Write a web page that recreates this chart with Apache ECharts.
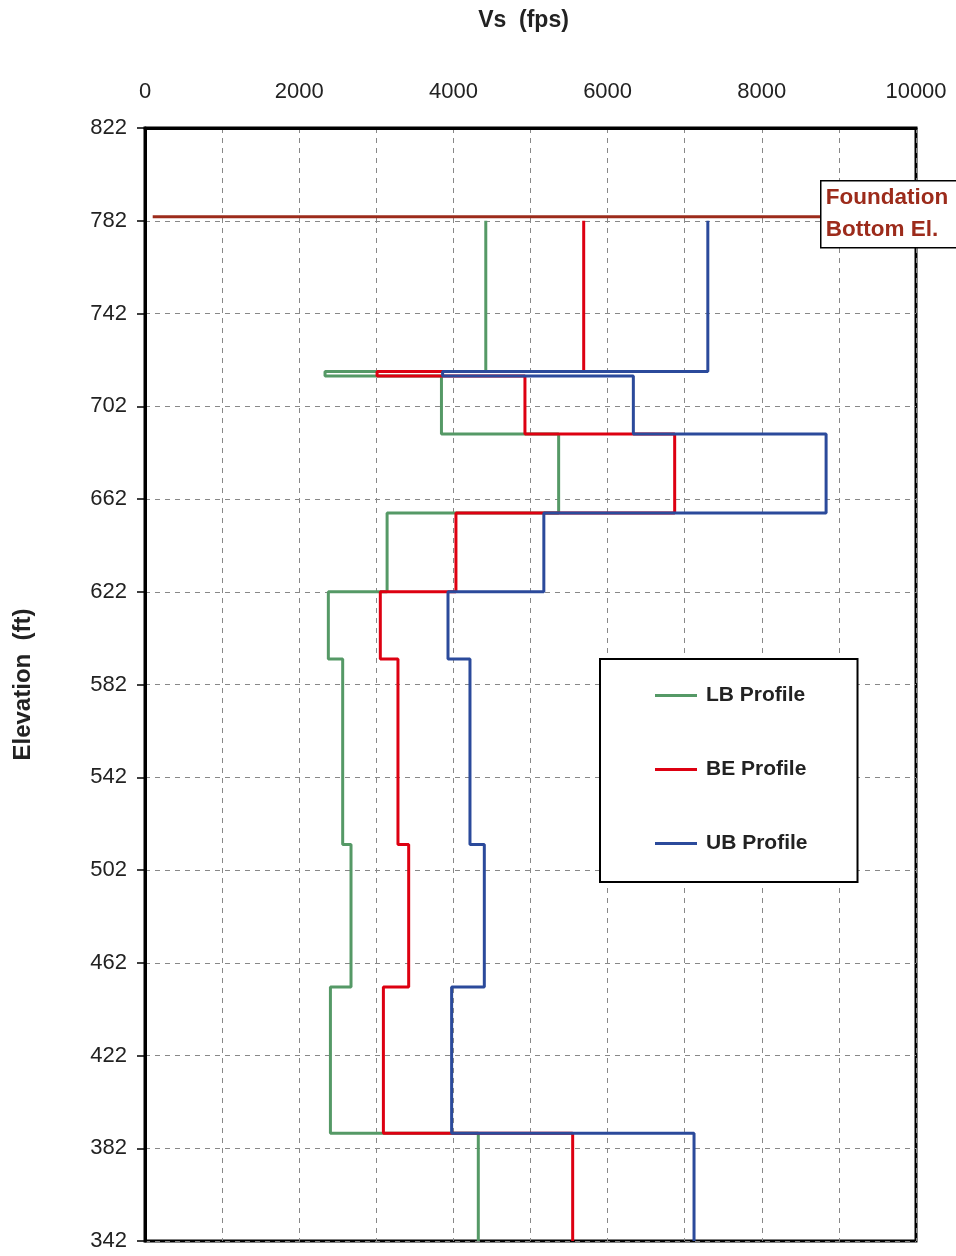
<!DOCTYPE html>
<html>
<head>
<meta charset="utf-8">
<script src="https://cdn.jsdelivr.net/npm/echarts@6/dist/echarts.min.js"></script>
<style>
  html, body { margin: 0; padding: 0; background: #fff; }
  #main { width: 956px; height: 1256px; }
</style>
</head>
<body>
<div id="main"></div>
<script>
// layer tops (ft), bottom of the last layer is the axis minimum
var layerTops = [782, 717, 715, 690, 656, 622, 593, 513, 451.5, 388.5];
var profileBottom = 342;

// shear wave velocity per layer (fps)
var lbVs = [4420, 2335, 3845, 5365, 3140, 2378, 2564, 2672, 2405, 4323];
var beVs = [5690, 3010, 4928, 6870, 4033, 3052, 3281, 3420, 3092, 5547];
var ubVs = [7300, 3860, 6334, 8834, 5173, 3930, 4215, 4401, 3977, 7121];

// foundation bottom elevation line
var foundationEl = 783.7;
var foundationX = [100, 10000];

var seriesNames = ['LB Profile', 'BE Profile', 'UB Profile'];
var seriesColors = ['#559966', '#dd0011', '#2b4a9b'];

function stepPoints(vs) {
    var pts = [];
    for (var i = 0; i < layerTops.length; i++) {
        var bot = i + 1 < layerTops.length ? layerTops[i + 1] : profileBottom;
        pts.push([vs[i], layerTops[i]]);
        pts.push([vs[i], bot]);
    }
    return pts;
}

var myChart = echarts.init(document.getElementById('main'));
var fontFam = '"Liberation Sans", Arial, sans-serif';

var profiles = [lbVs, beVs, ubVs].map(function(vs, i) {
    return {
        name: seriesNames[i], type: 'line', data: stepPoints(vs),
        symbol: 'none', color: seriesColors[i],
        lineStyle: { width: 3, color: seriesColors[i] }, z: 3
    };
});

profiles.unshift({
    name: 'Foundation', type: 'line', symbol: 'none',
    data: [[foundationX[0], foundationEl], [foundationX[1], foundationEl]],
    lineStyle: { width: 3, color: '#9c2b1b' }, z: 2
});

var option = {
    animation: false,
    grid: {
        left: 145, right: 40, top: 128, bottom: 15, outerBoundsMode: 'none',
        show: true, borderColor: '#000', borderWidth: 3
    },
    xAxis: {
        type: 'value', position: 'top', min: 0, max: 10000, interval: 1000,
        name: 'Vs  (fps)', nameLocation: 'middle', nameGap: 96,
        nameTextStyle: { fontFamily: fontFam, fontSize: 23, fontWeight: 'bold', color: '#222', padding: [0, 14, 0, 0] },
        axisLine: { show: true, lineStyle: { color: '#000', width: 3 } },
        axisTick: { show: false },
        axisLabel: {
            margin: 25, fontFamily: fontFam, fontSize: 22, color: '#222',
            formatter: function(v) { return v % 2000 === 0 ? v : ''; }
        },
        splitLine: { lineStyle: { color: '#888', type: [5, 5], width: 1 } }
    },
    yAxis: {
        type: 'value', min: 342, max: 822, interval: 40,
        name: 'Elevation  (ft)', nameLocation: 'middle', nameGap: 110,
        nameTextStyle: { fontFamily: fontFam, fontSize: 24, fontWeight: 'bold', color: '#222' },
        axisLine: { show: true, lineStyle: { color: '#000', width: 3 } },
        axisTick: { show: true, inside: false, length: 8, lineStyle: { color: '#000', width: 1.5 } },
        axisLabel: { margin: 18, fontFamily: fontFam, fontSize: 22, color: '#222' },
        splitLine: { lineStyle: { color: '#888', type: [5, 5], width: 1 } }
    },
    legend: {
        data: seriesNames, orient: 'vertical', left: 600, top: 659,
        padding: [26, 50, 28, 55], itemGap: 53, itemWidth: 42, itemHeight: 3,
        icon: 'rect', backgroundColor: '#fff', borderColor: '#000', borderWidth: 2,
        textStyle: { fontFamily: fontFam, fontSize: 21, fontWeight: 'bold', color: '#222', lineHeight: 20, padding: [0, 0, 0, 4] }
    },
    graphic: [{
        type: 'group', left: 820, top: 180, z: 100, zlevel: 1,
        children: [
            { type: 'rect', z: 100, shape: { x: 0, y: 0, width: 150, height: 67 },
              style: { fill: '#fff', stroke: '#000', lineWidth: 1.5 } },
            { type: 'text', z: 101, x: 5, y: 1,
              style: { text: 'Foundation\nBottom El.', fill: '#9c2b1b', lineHeight: 32,
                       font: 'bold 22.5px "Liberation Sans", Arial, sans-serif' } }
        ]
    }],
    series: profiles
};

myChart.setOption(option);
</script>
</body>
</html>
